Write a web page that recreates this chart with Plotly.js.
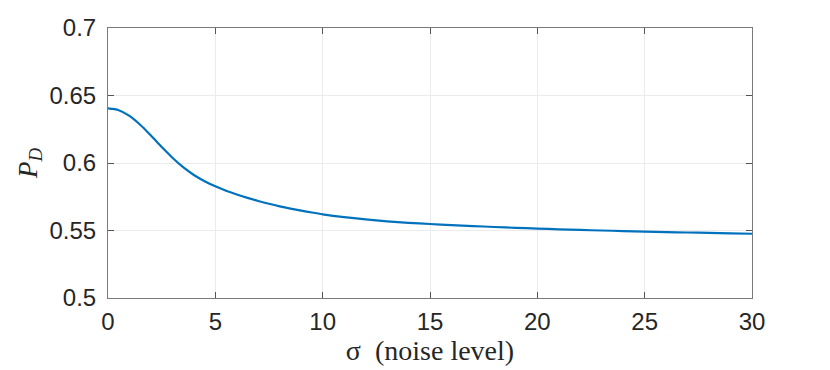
<!DOCTYPE html>
<html>
<head>
<meta charset="utf-8">
<script src="https://cdn.plot.ly/plotly-3.0.1.min.js"></script>
<style>
  html, body { margin: 0; padding: 0; background: #fff; }
  #chart { width: 830px; height: 370px; }
</style>
</head>
<body>
<div id="chart"></div>
<script>
// noise level sigma
const sigma = [0, 0.5, 1, 1.5, 2, 2.5, 3, 3.5, 4, 4.5, 5, 5.5, 6, 6.5, 7, 7.5, 8, 8.5, 9, 9.5, 10,
               11, 12, 13, 14, 15, 16, 17, 18, 19, 20, 21, 22, 23, 24, 25, 26, 27, 28, 29, 30];
// detection probability P_D
const pd = [0.6404, 0.6391, 0.6349, 0.6283, 0.6203, 0.6119, 0.6039, 0.5969, 0.5911, 0.5865, 0.5827,
            0.5795, 0.5767, 0.5742, 0.5719, 0.5698, 0.5679, 0.5662, 0.5647, 0.5633, 0.5620,
            0.5599, 0.5582, 0.5568, 0.5557, 0.5548, 0.5540, 0.5533, 0.5526, 0.5520, 0.5514,
            0.5509, 0.5504, 0.5500, 0.5496, 0.5492, 0.5488, 0.5485, 0.5482, 0.5479, 0.5476];
const xTicks = [0, 5, 10, 15, 20, 25, 30];
const yTicks = [0.5, 0.55, 0.6, 0.65, 0.7];
const yTickText = ['0.5', '0.55', '0.6', '0.65', '0.7'];

const axisColor = '#262626';
const trace = {
  x: sigma, y: pd, type: 'scatter', mode: 'lines',
  line: { color: '#0072BD', width: 2.2, shape: 'spline', smoothing: 0.8 },
  hoverinfo: 'skip'
};
const layout = {
  width: 830, height: 370,
  margin: { l: 108, r: 78, t: 28, b: 72 },
  paper_bgcolor: '#ffffff', plot_bgcolor: '#ffffff',
  showlegend: false,
  font: { family: 'Liberation Sans, Arial, sans-serif', size: 24, color: axisColor },
  xaxis: {
    range: [0, 30], tickvals: xTicks, ticktext: xTicks.map(String),
    showgrid: true, gridcolor: '#ebebeb', gridwidth: 1,
    showline: true, linecolor: '#7a7a7a', linewidth: 1, mirror: 'ticks',
    ticks: 'inside', ticklen: 6, tickcolor: '#555', tickwidth: 1,
    ticklabelstandoff: 2,
    zeroline: false,
    tickfont: { family: 'Liberation Sans, Arial, sans-serif', size: 24, color: axisColor },
    title: { text: 'σ  (noise level)', standoff: 0,
      font: { family: 'Liberation Serif, DejaVu Serif, serif', size: 28, color: axisColor } }
  },
  yaxis: {
    range: [0.5, 0.7], tickvals: yTicks, ticktext: yTickText,
    showgrid: true, gridcolor: '#ebebeb', gridwidth: 1,
    showline: true, linecolor: '#7a7a7a', linewidth: 1, mirror: 'ticks',
    ticks: 'inside', ticklen: 6, tickcolor: '#555', tickwidth: 1,
    ticklabelstandoff: 6,
    zeroline: false,
    tickfont: { family: 'Liberation Sans, Arial, sans-serif', size: 24, color: axisColor },
    title: { text: '<i>P</i><sub><i>D</i></sub>', standoff: 4,
      font: { family: 'Liberation Serif, DejaVu Serif, serif', size: 27, color: axisColor } }
  }
};
Plotly.newPlot('chart', [trace], layout, { staticPlot: true, displayModeBar: false });
</script>
</body>
</html>
